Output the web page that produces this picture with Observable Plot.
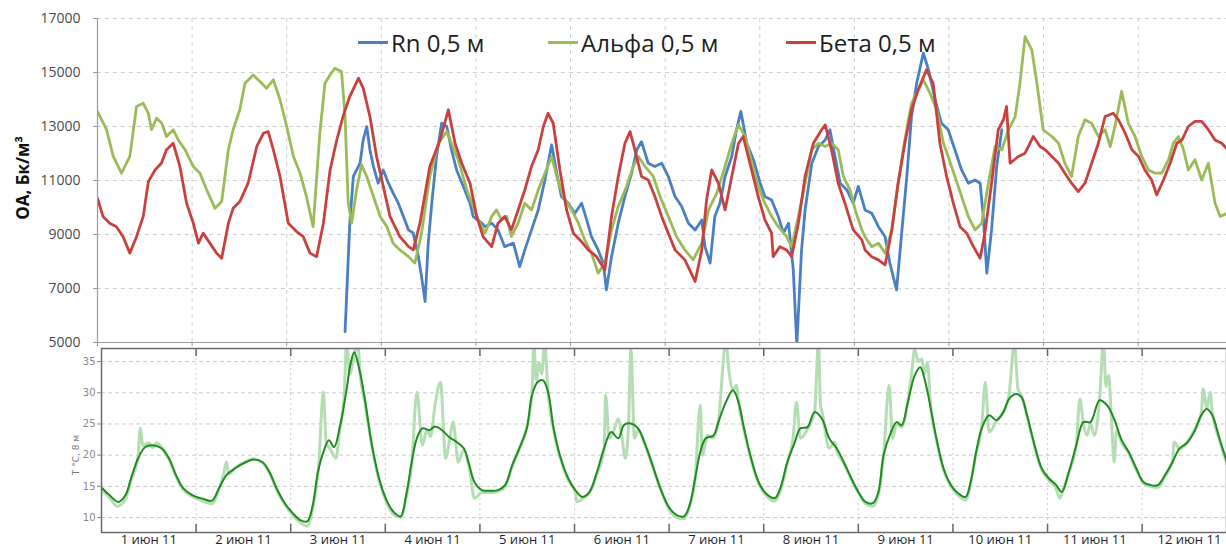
<!DOCTYPE html>
<html><head><meta charset="utf-8">
<script src="https://cdn.jsdelivr.net/npm/d3@7"></script>
<script src="https://cdn.jsdelivr.net/npm/@observablehq/plot@0.6"></script>
<style>
body{margin:0;background:#fff;}
#wrap{position:relative;width:1226px;height:550px;overflow:hidden;font-family:"Open Sans",sans-serif;background:#fff;}
#top{position:absolute;left:0;top:0;}
#bot{position:absolute;left:0;top:345px;}
.leg{position:absolute;top:27px;height:30px;display:flex;align-items:center;font-size:24px;color:#1e1e1e;white-space:nowrap;}
.sw{display:inline-block;width:30px;height:3px;margin-right:3px;}
#ytitle{position:absolute;left:22px;top:178px;transform:translate(-50%,-50%) rotate(-90deg);font-weight:bold;font-size:17px;color:#111;white-space:nowrap;}
#ttitle{position:absolute;left:76px;top:455px;transform:translate(-50%,-50%) rotate(-90deg);font-size:9px;color:#777;white-space:nowrap;font-family:"DejaVu Sans",sans-serif;}
</style></head>
<body><div id="wrap"><div id="top"></div><div id="bot"></div></div>
<script>
// hours since 1 June 2011 00:00 -> value
const seriesNames = ["Rn 0,5 м", "Альфа 0,5 м", "Бета 0,5 м"];
const seriesColors = ["#4a7fc1", "#9bbb59", "#c8413e"];
const dayLabels = ["1 июн 11","2 июн 11","3 июн 11","4 июн 11","5 июн 11","6 июн 11","7 июн 11","8 июн 11","9 июн 11","10 июн 11","11 июн 11","12 июн 11"];
const oaTicks = [5000, 7000, 9000, 11000, 13000, 15000, 17000];
const tTicks = [10, 15, 20, 25, 30, 35];

const rnData = [[62.8,5400],[64.0,9420],[64.9,11150],[66.6,11640],[67.4,12500],[68.3,13000],[69.1,12140],[70.0,11520],[71.2,10900],[72.5,11390],[73.8,10900],[75.0,10530],[76.3,10160],[77.6,9670],[78.9,9170],[80.1,9050],[81.4,8180],[82.2,7440],[83.1,6520],[83.9,8680],[84.8,10160],[86.0,11890],[87.3,13120],[88.6,13000],[89.8,12140],[91.1,11390],[92.8,10780],[94.5,10160],[95.3,9670],[97.5,9420],[98.3,9290],[100.0,9420],[101.6,9170],[103.3,8550],[105.5,8680],[107.1,7810],[108.4,8430],[110.1,9170],[111.8,9910],[113.5,11020],[115.2,12320],[116.5,11270],[117.7,10410],[119.4,10160],[121.1,9790],[122.8,10160],[124.1,9540],[125.3,8920],[127.0,8430],[128.3,7940],[129.1,6950],[130.4,8180],[132.1,9420],[133.8,10410],[135.5,11270],[136.8,12140],[138.0,12440],[139.7,11640],[141.4,11520],[143.1,11640],[144.8,11150],[146.5,10410],[148.2,10040],[149.9,9420],[151.6,9170],[153.3,9540],[154.1,8550],[155.4,7940],[156.6,9670],[157.9,10160],[159.2,11150],[160.9,11890],[162.1,12880],[163.2,13560],[164.7,12380],[166.4,11770],[168.1,10900],[169.3,10410],[171.0,10280],[172.7,9670],[174.0,9050],[175.3,9420],[176.5,7690],[177.4,4900],[178.6,8430],[179.5,9910],[181.2,11640],[182.9,12260],[184.6,12500],[185.8,12880],[187.1,11890],[188.4,10900],[190.1,10650],[191.7,10160],[193.0,10780],[194.7,9910],[196.4,9790],[198.1,9290],[199.8,8920],[201.0,7940],[202.7,6950],[204.0,9050],[205.3,11150],[206.5,13370],[207.8,14600],[209.5,15720],[210.8,15100],[212.5,13990],[214.1,13120],[215.8,12880],[217.5,12140],[219.2,11390],[220.9,10900],[222.6,11020],[223.9,10900],[224.7,9670],[225.6,7570],[226.8,9170],[228.1,11520],[229.4,12880]];

const alphaData = [[0,13550],[2.3,12880],[4.0,11890],[6.1,11270],[8.2,11890],[9.9,13740],[11.6,13860],[12.9,13490],[13.7,12880],[15.0,13310],[16.3,13120],[17.5,12630],[19.2,12880],[20.5,12500],[22.2,12140],[24.3,11520],[26.0,11270],[27.7,10650],[29.8,9970],[31.5,10220],[33.2,12140],[34.4,12880],[36.1,13620],[37.4,14600],[39.5,14910],[41.2,14670],[42.9,14420],[44.6,14730],[46.3,13990],[48.0,13000],[49.7,11890],[51.4,11270],[53.0,10410],[54.7,9290],[56.4,12750],[57.7,14600],[59.0,14910],[60.2,15160],[61.9,15040],[62.8,13370],[63.6,10160],[64.5,9420],[65.7,10650],[67.0,11580],[68.3,11150],[70.0,10410],[71.7,9670],[73.4,9290],[75.0,8680],[76.7,8430],[78.9,8180],[80.5,7940],[82.2,9050],[84.3,11150],[86.5,12380],[88.6,12810],[89.8,12380],[91.5,11770],[93.7,10650],[96.6,9540],[98.3,9050],[100.0,9670],[101.2,9910],[102.5,9540],[103.8,9670],[105.0,8920],[106.7,9420],[108.4,10160],[110.1,9910],[111.8,10650],[113.5,11270],[115.2,11890],[116.5,11150],[118.1,10410],[120.3,9910],[122.0,9420],[123.6,8800],[125.3,8310],[127.0,7570],[128.7,7940],[130.4,9170],[132.1,10040],[134.2,10780],[135.9,11520],[137.2,11890],[138.9,11520],[141.0,11150],[142.7,10410],[144.8,9670],[146.9,8920],[149.0,8430],[151.1,8060],[153.3,8680],[155.0,9910],[157.1,10530],[159.2,11520],[160.9,12380],[162.6,13060],[164.3,12630],[166.0,11640],[167.6,10780],[169.3,10160],[171.0,9670],[172.7,9290],[174.8,8920],[176.1,8550],[177.8,9670],[179.5,10900],[181.2,12140],[182.9,12380],[184.6,12260],[186.2,12380],[187.9,12140],[189.2,11150],[190.9,10650],[192.2,9910],[193.9,9170],[194.7,8920],[196.4,8550],[198.1,8680],[199.8,8310],[201.5,9170],[203.1,10900],[204.8,12500],[206.5,13860],[208.2,14360],[209.5,14730],[211.2,14230],[212.9,13620],[214.6,12380],[215.8,11890],[217.5,11150],[219.2,10410],[220.9,9670],[222.6,9170],[224.3,9420],[226.0,10900],[227.7,12260],[229.4,12140],[231.1,12880],[232.8,13370],[234.0,14600],[235.3,16330],[237.0,15840],[238.3,14600],[239.9,12880],[242.1,12630],[243.8,12380],[245.4,11640],[247.1,11150],[248.8,12630],[250.5,13250],[252.2,13120],[253.9,12630],[255.6,12880],[256.9,12260],[258.1,13000],[259.8,14300],[261.5,13120],[263.2,12630],[264.9,11890],[266.6,11390],[268.3,11270],[270.0,11270],[271.7,11770],[272.9,12380],[274.2,12630],[275.5,12140],[276.7,11390],[278.4,11770],[280.1,11020],[281.8,11640],[283.5,10160],[284.8,9670],[286.7,9790]];

const betaData = [[0,10340],[1.4,9670],[3.1,9420],[4.8,9290],[6.5,8920],[8.2,8310],[9.9,8920],[11.6,9670],[12.9,10960],[14.6,11390],[16.2,11640],[17.5,12140],[19.2,12380],[20.9,11520],[22.6,10160],[24.3,9420],[25.6,8680],[26.8,9050],[28.5,8680],[30.2,8310],[31.5,8120],[33.2,9420],[34.4,9970],[36.1,10220],[38.2,10900],[40.4,12260],[42.1,12750],[43.3,12810],[44.6,12140],[46.3,11150],[48.4,9420],[50.5,9110],[52.2,8920],[53.9,8310],[55.6,8180],[57.3,9420],[59.0,11390],[60.7,12500],[62.4,13430],[64.0,14110],[66.2,14790],[67.4,14420],[69.1,13370],[70.8,11890],[72.5,10780],[74.2,9670],[76.7,8920],[78.9,8550],[80.1,8430],[81.8,9420],[84.3,11520],[86.9,12500],[89.0,13620],[90.7,12380],[92.4,11640],[94.5,10900],[96.2,9670],[97.8,8920],[100.0,8550],[101.6,9420],[103.3,9670],[105.0,9170],[106.7,9910],[108.4,10650],[110.1,11520],[111.8,12140],[113.1,13000],[114.3,13490],[115.6,13120],[117.3,11390],[119.0,9910],[120.7,9050],[122.4,8800],[124.5,8430],[126.6,8180],[128.7,7690],[130.4,9670],[132.1,11150],[133.8,12380],[135.1,12810],[136.3,12140],[138.0,11150],[139.7,11020],[141.4,10410],[143.1,9670],[144.8,9050],[146.5,8430],[149.0,8060],[151.6,7260],[153.3,8430],[154.5,10280],[155.8,11390],[157.5,10900],[159.2,9910],[160.9,11150],[162.6,12380],[163.8,12630],[165.5,11640],[167.6,10410],[169.3,9540],[171.0,9050],[171.4,8180],[173.1,8550],[174.8,8430],[176.1,8180],[177.8,9420],[179.5,11150],[181.6,12380],[183.7,12880],[184.6,13060],[186.2,12140],[187.9,10900],[189.6,10160],[191.7,9170],[193.9,8800],[194.7,8430],[196.4,8180],[198.1,8060],[199.8,7870],[201.5,9170],[203.1,10900],[204.8,12380],[206.5,13620],[208.2,14360],[210.3,15100],[212.0,14600],[213.7,12380],[215.4,11150],[217.1,10160],[218.8,9290],[220.5,9050],[222.2,8550],[223.9,8120],[225.1,9050],[226.8,10900],[228.5,12880],[229.8,13250],[230.6,13740],[231.5,11640],[233.6,11890],[235.3,12010],[237.4,12630],[239.1,12260],[240.4,12140],[242.1,11890],[243.8,11640],[245.4,11270],[247.1,10900],[248.8,10590],[250.5,10900],[252.2,11640],[253.9,12380],[255.6,13370],[257.7,13490],[259.0,13250],[260.7,12750],[262.4,12140],[264.1,11890],[265.7,11390],[267.4,11020],[268.7,10470],[270.4,11020],[272.1,11640],[273.8,12380],[275.1,12500],[276.7,13000],[278.4,13190],[280.1,13190],[281.8,12880],[283.5,12500],[285.2,12380],[286.7,12140]];

const tempSmooth = [[0.2,14.7],[2.0,13.6],[4.3,12.5],[6.1,13.6],[7.5,16.3],[9.3,19.5],[11.1,21.3],[13.0,21.6],[15.2,21.1],[17.1,19.5],[18.9,16.8],[20.7,14.7],[23.0,13.6],[25.7,13.0],[28.0,12.7],[29.8,14.7],[31.7,16.8],[33.9,17.9],[36.7,18.9],[38.5,19.3],[40.8,18.9],[42.6,17.3],[44.4,14.7],[46.3,12.5],[48.5,10.7],[50.4,9.6],[52.2,9.4],[53.6,12.0],[54.9,17.3],[56.3,20.5],[57.7,22.4],[59.0,21.3],[60.4,24.3],[62.2,30.6],[63.1,34.4],[64.1,36.5],[65.4,33.8],[66.8,29.0],[68.6,21.6],[70.4,16.3],[72.3,12.8],[74.1,10.9],[75.9,10.2],[77.3,13.6],[78.7,18.9],[80.0,22.7],[81.4,24.3],[83.2,24.0],[84.6,24.6],[86.4,24.0],[88.2,22.9],[90.1,22.1],[91.9,21.1],[93.3,18.4],[94.6,15.7],[96.5,14.4],[98.7,14.3],[100.6,14.4],[102.4,15.2],[104.2,18.4],[106.0,21.1],[107.9,24.3],[109.2,29.6],[110.6,31.7],[112.0,32.0],[113.3,30.1],[114.7,24.3],[116.5,19.5],[118.4,16.3],[120.2,14.4],[122.0,13.3],[123.8,14.1],[125.7,17.3],[127.5,21.1],[129.3,23.7],[131.1,22.7],[132.5,24.8],[133.9,25.1],[136.1,24.3],[138.0,21.6],[139.8,18.4],[141.8,14.6],[144.1,11.5],[145.9,10.4],[147.8,10.2],[149.2,12.0],[150.6,16.3],[151.9,20.5],[153.3,22.7],[155.2,23.1],[156.5,25.3],[158.4,28.5],[160.2,30.4],[161.6,28.5],[163.0,24.3],[164.8,19.5],[166.7,15.7],[168.5,13.9],[170.8,13.1],[172.2,14.7],[174.0,18.9],[175.9,22.1],[177.3,24.3],[179.1,24.5],[180.9,26.9],[182.8,25.8],[184.6,22.7],[186.5,21.1],[188.3,18.9],[190.2,16.3],[192.0,14.1],[193.8,12.5],[195.7,12.3],[197.1,14.1],[198.4,20.0],[200.3,23.7],[201.7,25.3],[203.0,24.8],[204.4,28.0],[206.3,32.8],[207.7,34.1],[209.0,31.7],[210.4,27.4],[211.8,22.7],[213.6,17.9],[215.5,15.2],[217.3,13.9],[219.2,13.3],[220.5,15.7],[221.9,20.5],[223.3,24.3],[225.2,26.4],[227.0,25.6],[228.8,26.9],[230.2,29.0],[232.1,29.8],[233.4,29.3],[234.8,26.4],[236.7,21.6],[238.5,17.9],[240.3,16.3],[242.2,15.2],[243.6,14.1],[245.4,17.3],[247.3,21.6],[249.1,25.3],[250.9,25.3],[253.2,28.8],[255.1,28.0],[256.9,25.8],[258.8,22.4],[260.6,20.5],[262.5,17.9],[264.3,15.7],[266.1,15.2],[268.0,15.2],[269.8,16.8],[271.7,18.9],[273.5,21.1],[275.3,21.9],[277.2,23.7],[279.0,26.4],[280.4,27.4],[281.8,26.4],[283.6,22.7],[285.5,18.9]];

const tempRaw = [[0,14.5],[2,13.2],[4,11.8],[6,12.8],[7.5,16],[9.3,19.8],[9.8,24.3],[10.5,21.5],[12,22],[13,21.2],[14,22],[15.2,21.3],[17,19.5],[19,16.5],[20.7,14.5],[23,13.4],[25.7,12.6],[28,12.2],[29.8,14.5],[31,17],[31.7,18.9],[32.3,17],[34,18],[36.7,19],[38.5,19.4],[40.8,18.8],[42.6,17.2],[44.4,14.5],[46.3,12.3],[48.5,10.4],[50.4,9.2],[52.2,8.6],[53.6,11.5],[55,17.5],[56.3,30.1],[57,22],[58,21],[59.5,19.5],[60.4,24],[61.5,29],[62.2,38],[63,33],[64.1,36],[65,38],[65.6,33],[66.8,28.5],[68.6,21.5],[70.4,16],[72.3,12.5],[74.1,10.5],[75.9,10],[77.3,13.2],[78.7,18.5],[80,30.1],[81.4,21.6],[82.5,24],[83.5,23],[84.6,28],[86,31.7],[87.3,19.5],[88.2,22],[89.2,25.3],[90.5,18.9],[91.9,20.8],[93.3,18],[94.6,13.1],[96.5,14],[98.7,14],[100.6,14.2],[102.4,15],[104.2,18.2],[106,21],[107.9,24.5],[109.2,30],[109.7,38],[110.3,32],[111,34.9],[111.7,33],[112.4,38],[113.3,30],[114.7,24],[116.5,19.3],[118.4,16],[120.2,14],[120.6,12.5],[122,13],[123.8,14],[125.7,17],[127.5,21],[127.9,29.6],[128.8,22.7],[130,24],[131.1,25.8],[132,23],[132.9,19.5],[133.7,25],[134.3,37],[135.2,22.7],[136.1,24],[138,21.4],[139.8,18.2],[141.6,15],[144.1,11.2],[145.9,10],[147.8,9.8],[149.2,11.8],[150.6,16.2],[151.9,28],[152.4,20],[153.8,23.2],[155.2,22.8],[156.5,25.5],[158.4,38],[159.3,32.8],[160.2,30.5],[161.1,31.2],[161.6,28.5],[163,24],[164.8,19.3],[166.7,15.5],[168.5,13.6],[170.8,12.6],[172.2,14.2],[174,18.8],[175.5,23],[176.3,28.5],[177.3,22.7],[179.1,24.2],[180.9,27],[181.9,38],[182.4,28],[182.8,26.9],[184.6,21.1],[186,22.1],[186.5,20.8],[188.3,18.7],[190.2,16.2],[192,14],[193.8,12.2],[195.7,11.8],[197.1,13.8],[198.4,20],[199.8,31.2],[200.7,22.7],[201.7,25],[203,24.5],[204.4,28],[205.5,33],[206.3,37],[207.2,35],[208.1,35.4],[208.8,33],[209.5,34.9],[210.4,27.5],[211.8,22.5],[213.6,17.7],[215.5,15],[217.3,13.6],[219.2,12.8],[220.5,15.5],[221.9,20.5],[223.3,24.5],[224.2,31.7],[225.2,23.7],[227,25.4],[228.8,27],[230.2,29.5],[231.6,38],[232.5,30.6],[233.4,29.5],[234.8,26.2],[236.7,21.4],[238.5,17.7],[240.3,16],[242.2,14.6],[243.1,13.1],[243.6,13.8],[245.4,17.2],[247.3,21.8],[248.2,29],[249.1,25],[250,23.2],[250.9,25],[251.9,23.2],[253.2,29],[254.2,38],[254.8,31],[255.5,32.8],[256.2,26],[256.9,18.9],[257.5,24],[258.8,22],[260.6,20.3],[262.5,17.7],[264.3,15.5],[266.1,15],[268,14.8],[269.8,16.6],[271.7,19],[272.1,22.1],[273.5,21],[275.3,22],[277.2,24],[279,26.8],[279.5,30.6],[280.4,27.5],[281.3,30.1],[281.8,26.8],[283.6,22.5],[285.5,18.6]];

const T0 = Date.UTC(2011, 5, 1);
const toDate = h => new Date(T0 + h * 3600e3);
const dayStarts = d3.range(0, 13).map(d => toDate(d * 24));
const dayNoons = dayLabels.map((_, i) => toDate(i * 24 + 12));

const xOf = d => toDate(d[0]);
const yOf = d => d[1];

const topPlot = Plot.plot({
  width: 1226, height: 345,
  marginLeft: 97, marginRight: 0, marginTop: 18, marginBottom: 3,
  style: {overflow: "visible", fontFamily: "'Open Sans', sans-serif", background: "transparent"},
  x: {type: "utc", domain: [toDate(0), toDate(286.4)], axis: null},
  y: {domain: [5000, 17000], axis: null},
  marks: [
    Plot.ruleY(oaTicks.filter(v => v > 5000), {stroke: "#cfcfcf", strokeDasharray: "4,4"}),
    Plot.ruleX(dayStarts.slice(1), {stroke: "#cfcfcf", strokeDasharray: "4,4"}),
    Plot.line(rnData, {x: xOf, y: yOf, stroke: seriesColors[0], strokeWidth: 2.8, clip: true}),
    Plot.line(alphaData, {x: xOf, y: yOf, stroke: seriesColors[1], strokeWidth: 2.8, clip: true}),
    Plot.line(betaData, {x: xOf, y: yOf, stroke: seriesColors[2], strokeWidth: 2.8, clip: true}),
    Plot.ruleX([toDate(0)], {stroke: "#9a9a9a", strokeWidth: 1.2}),
    Plot.ruleY([5000], {stroke: "#9a9a9a", strokeWidth: 1.2}),
    Plot.axisY(oaTicks, {tickSize: 4, tickPadding: 13, fontSize: 14, fill: "#4a4a4a", stroke: "#9a9a9a", tickFormat: d => String(d)}),
    Plot.axisX(dayStarts, {tickSize: 4, tickFormat: () => "", stroke: "#9a9a9a"})
  ]
});
document.getElementById("top").append(topPlot);

const botPlot = Plot.plot({
  width: 1226, height: 205,
  marginLeft: 101, marginRight: 0, marginTop: 3, marginBottom: 18,
  style: {overflow: "visible", fontFamily: "'Open Sans', sans-serif", background: "transparent"},
  x: {type: "utc", domain: [toDate(0), toDate(285.4)], axis: null},
  y: {domain: [7.6, 37.1], axis: null},
  marks: [
    Plot.ruleY(tTicks, {stroke: "#cccccc", strokeDasharray: "4,3"}),
    Plot.ruleX(dayStarts.slice(1), {stroke: "#d0d0d0", strokeDasharray: "2,3"}),
    Plot.line(tempRaw, {x: xOf, y: yOf, stroke: "#b4ddb4", strokeWidth: 3, curve: "monotone-x", clip: true}),
    Plot.line(tempSmooth, {x: xOf, y: yOf, stroke: "#1f8c1f", strokeWidth: 2, curve: "catmull-rom", clip: true}),
    Plot.ruleX(dayStarts.slice(1), {y1: 7.6, y2: 8.9, stroke: "#666", strokeWidth: 1.5}),
    Plot.ruleX(dayStarts.slice(1), {y1: 35.8, y2: 37.1, stroke: "#666", strokeWidth: 1.5}),
    Plot.frame({stroke: "#6a6a6a", strokeWidth: 1.5}),
    Plot.axisY(tTicks, {tickSize: 4, tickPadding: 2, fontSize: 10, fill: "#8a8a8a", stroke: "#8a8a8a", fontFamily: "'DejaVu Sans', sans-serif"}),
    Plot.axisX(dayNoons, {tickSize: 0, tickPadding: 2, fontSize: 13, fill: "#1e1e2e", tickFormat: (d, i) => dayLabels[i]})
  ]
});
document.getElementById("bot").append(botPlot);

// legend and titles
const wrap = document.getElementById("wrap");
const legendX = [358, 548, 786];
seriesNames.forEach((name, i) => {
  const el = document.createElement("div");
  el.className = "leg";
  el.style.left = legendX[i] + "px";
  el.innerHTML = `<span class="sw" style="background:${seriesColors[i]}"></span><span>${name}</span>`;
  wrap.append(el);
});
const yt = document.createElement("div");
yt.id = "ytitle"; yt.textContent = "ОА, Бк/м³"; wrap.append(yt);
const tt = document.createElement("div");
tt.id = "ttitle"; tt.textContent = "T °C, 8 м"; wrap.append(tt);
</script>
</body></html>
